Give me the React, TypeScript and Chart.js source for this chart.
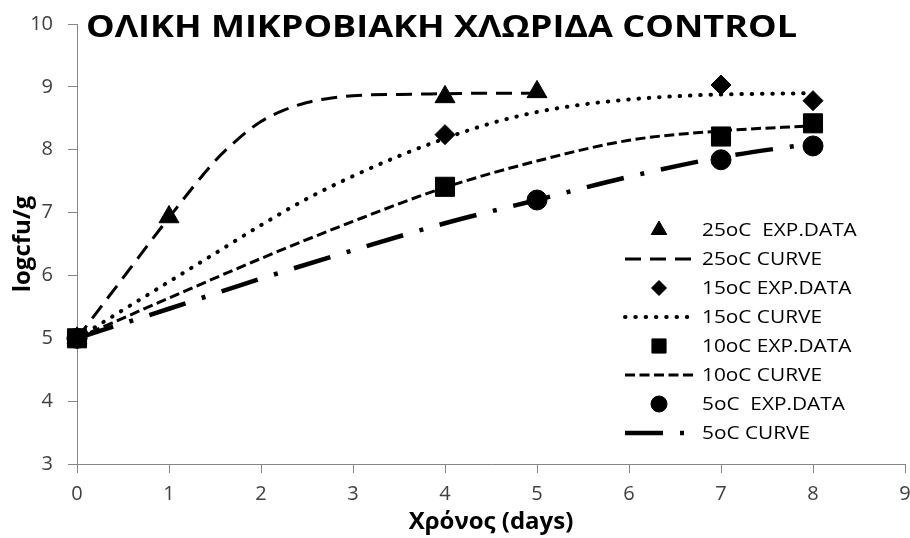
import React, { useEffect, useRef } from 'react';
import { Chart, registerables } from 'chart.js';
import { drawPoint } from 'chart.js/helpers';

Chart.register(...registerables);

// Text
const CHART_TITLE = 'ΟΛΙΚΗ ΜΙΚΡΟΒΙΑΚΗ ΧΛΩΡΙΔΑ CONTROL';
const X_TITLE = 'Χρόνος (days)';
const Y_TITLE = 'logcfu/g';

// Axis ranges
const X_MIN = 0;
const X_MAX = 9;
const Y_MIN = 3;
const Y_MAX = 10;

// Experimental data (time in days, log cfu/g)
const exp25Time = [0, 1, 4, 5];
const exp25Log = [5.0, 6.93, 8.84, 8.92];

const exp15Time = [0, 4, 7, 8];
const exp15Log = [5.0, 8.24, 9.03, 8.78];

const exp10Time = [0, 4, 7, 8];
const exp10Log = [5.0, 7.41, 8.21, 8.42];

const exp5Time = [0, 5, 7, 8];
const exp5Log = [5.0, 7.2, 7.84, 8.06];

// Fitted growth curves
const curve25Time = [0, 0.5, 1, 1.5, 1.75, 2, 2.25, 2.5, 2.75, 3, 3.5, 4, 4.5, 5];
const curve25Log = [5.0, 5.96, 6.92, 7.82, 8.17, 8.45, 8.63, 8.75, 8.82, 8.86, 8.88, 8.89, 8.9, 8.9];

const curve15Time = [0, 0.5, 1, 1.5, 2, 2.5, 3, 3.5, 4, 4.5, 5, 5.5, 6, 6.5, 7, 7.5, 8];
const curve15Log = [5.0, 5.45, 5.9, 6.35, 6.8, 7.22, 7.58, 7.9, 8.18, 8.42, 8.6, 8.72, 8.8, 8.85, 8.88, 8.89, 8.9];

const curve10Time = [0, 1, 2, 3, 4, 5, 6, 7, 8];
const curve10Log = [5.0, 5.64, 6.27, 6.86, 7.4, 7.82, 8.15, 8.3, 8.38];

const curve5Time = [0, 1, 2, 3, 4, 5, 6, 7, 8];
const curve5Log = [5.0, 5.47, 5.95, 6.4, 6.83, 7.2, 7.57, 7.88, 8.1];

const legendLabels = [
  '25oC  EXP.DATA',
  '25oC CURVE',
  '15oC EXP.DATA',
  '15oC CURVE',
  '10oC EXP.DATA',
  '10oC CURVE',
  '5oC  EXP.DATA',
  '5oC CURVE',
];

const FONT = '"Open Sans", "DejaVu Sans", sans-serif';
const AXIS_GREY = '#868686';

const toPoints = (xs: number[], ys: number[]) => xs.map((x, i) => ({ x, y: ys[i] }));

const markerSet = (label: string, xs: number[], ys: number[], style: string, radius: number, legendRadius: number) => ({
  label,
  data: toPoints(xs, ys),
  showLine: false,
  pointStyle: style,
  pointRadius: radius,
  pointHoverRadius: radius,
  pointBackgroundColor: '#000',
  pointBorderColor: '#000',
  pointBorderWidth: 1,
  backgroundColor: '#000',
  borderColor: '#000',
  clip: false,
  legendRadius,
});

const curveSet = (label: string, xs: number[], ys: number[], dash: number[], width: number, cap: CanvasLineCap) => ({
  label,
  data: toPoints(xs, ys),
  showLine: true,
  pointRadius: 0,
  pointHoverRadius: 0,
  borderColor: '#000',
  backgroundColor: '#000',
  borderWidth: width,
  borderDash: dash,
  borderCapStyle: cap,
  cubicInterpolationMode: 'monotone',
  clip: false,
});

// Title drawn inside the top of the plot area
const titlePlugin = {
  id: 'plotTitle',
  afterDraw(chart: any) {
    const { ctx, chartArea } = chart;
    ctx.save();
    ctx.font = `bold 31px ${FONT}`;
    const w = ctx.measureText(CHART_TITLE).width;
    ctx.translate(chartArea.left + 9, 37);
    ctx.scale(711 / w, 1);
    ctx.fillStyle = '#000';
    ctx.textBaseline = 'alphabetic';
    ctx.textAlign = 'left';
    ctx.fillText(CHART_TITLE, 0, 0);
    ctx.restore();
  },
};

// Legend placed in the lower right of the plot area
const legendPlugin = {
  id: 'insideLegend',
  afterDraw(chart: any) {
    const { ctx } = chart;
    const sampleLeft = 625;
    const sampleRight = 693;
    const textX = 702;
    const firstRow = 230;
    const rowGap = 29;
    ctx.save();
    ctx.font = `19px ${FONT}`;
    const squeeze = 120 / ctx.measureText('25oC CURVE').width;
    chart.data.datasets.forEach((ds: any, i: number) => {
      const y = firstRow + i * rowGap;
      ctx.fillStyle = '#000';
      ctx.strokeStyle = '#000';
      if (ds.showLine) {
        ctx.save();
        ctx.lineWidth = ds.borderWidth;
        ctx.lineCap = ds.borderCapStyle;
        ctx.setLineDash(ds.borderDash);
        ctx.beginPath();
        ctx.moveTo(sampleLeft, y);
        ctx.lineTo(sampleRight, y);
        ctx.stroke();
        ctx.restore();
      } else {
        ctx.save();
        ctx.lineWidth = 1;
        drawPoint(ctx, { pointStyle: ds.pointStyle, radius: ds.legendRadius, rotation: 0, borderWidth: 1 }, (sampleLeft + sampleRight) / 2, y);
        ctx.restore();
      }
      ctx.save();
      ctx.translate(textX, y);
      ctx.scale(squeeze, 1);
      ctx.fillStyle = '#000';
      ctx.textBaseline = 'middle';
      ctx.textAlign = 'left';
      ctx.fillText(legendLabels[i], 0, 1);
      ctx.restore();
    });
    ctx.restore();
  },
};

export default function App() {
  const canvasRef = useRef<HTMLCanvasElement | null>(null);

  useEffect(() => {
    const canvas = canvasRef.current;
    if (!canvas) return;
    const chart = new Chart(canvas, {
      type: 'scatter',
      data: {
        datasets: [
          markerSet(legendLabels[0], exp25Time, exp25Log, 'triangle', 11.5, 9),
          curveSet(legendLabels[1], curve25Time, curve25Log, [16, 9], 3, 'butt'),
          markerSet(legendLabels[2], exp15Time, exp15Log, 'rectRot', 10, 7.5),
          curveSet(legendLabels[3], curve15Time, curve15Log, [0.5, 9.8], 4, 'round'),
          markerSet(legendLabels[4], exp10Time, exp10Log, 'rect', 13.5, 10),
          curveSet(legendLabels[5], curve10Time, curve10Log, [10, 4.5], 3, 'butt'),
          markerSet(legendLabels[6], exp5Time, exp5Log, 'circle', 10, 8),
          curveSet(legendLabels[7], curve5Time, curve5Log, [38, 17, 4, 17], 4.5, 'butt'),
        ] as any,
      },
      options: {
        animation: false,
        responsive: false,
        maintainAspectRatio: false,
        devicePixelRatio: 1,
        layout: { autoPadding: false, padding: { top: 24, right: 5, left: 0, bottom: 0 } },
        plugins: {
          legend: { display: false },
          tooltip: { enabled: false },
          title: { display: false },
        },
        scales: {
          x: {
            type: 'linear',
            min: X_MIN,
            max: X_MAX,
            ticks: {
              stepSize: 1,
              padding: 9,
              color: '#404040',
              font: { family: FONT, size: 20 },
            },
            grid: {
              drawOnChartArea: false,
              drawTicks: true,
              tickLength: 9,
              color: AXIS_GREY,
            },
            border: { color: AXIS_GREY, width: 1 },
            title: {
              display: true,
              text: X_TITLE,
              color: '#000',
              font: { family: FONT, size: 24, weight: 'bold' },
              padding: { top: 0, bottom: 1.5 },
            },
            afterFit(scale: any) {
              scale.height = 74;
              scale.paddingLeft = 0;
              scale.paddingRight = 0;
            },
          },
          y: {
            type: 'linear',
            min: Y_MIN,
            max: Y_MAX,
            ticks: {
              stepSize: 1,
              padding: 15,
              color: '#404040',
              font: { family: FONT, size: 20 },
            },
            grid: {
              drawOnChartArea: false,
              drawTicks: true,
              tickLength: 9,
              color: AXIS_GREY,
            },
            border: { color: AXIS_GREY, width: 1 },
            title: {
              display: true,
              text: Y_TITLE,
              color: '#000',
              font: { family: FONT, size: 24, weight: 'bold' },
              padding: { top: 8.5, bottom: 0 },
            },
            afterFit(scale: any) {
              scale.width = 77;
              scale.paddingTop = 0;
              scale.paddingBottom = 0;
            },
          },
        },
      } as any,
      plugins: [titlePlugin, legendPlugin],
    });
    return () => chart.destroy();
  }, []);

  return (
    <div style={{ position: 'absolute', left: 0, top: 0, width: 910, height: 538, background: '#fff' }}>
      <canvas ref={canvasRef} width={910} height={538} style={{ display: 'block', width: 910, height: 538 }} />
    </div>
  );
}
